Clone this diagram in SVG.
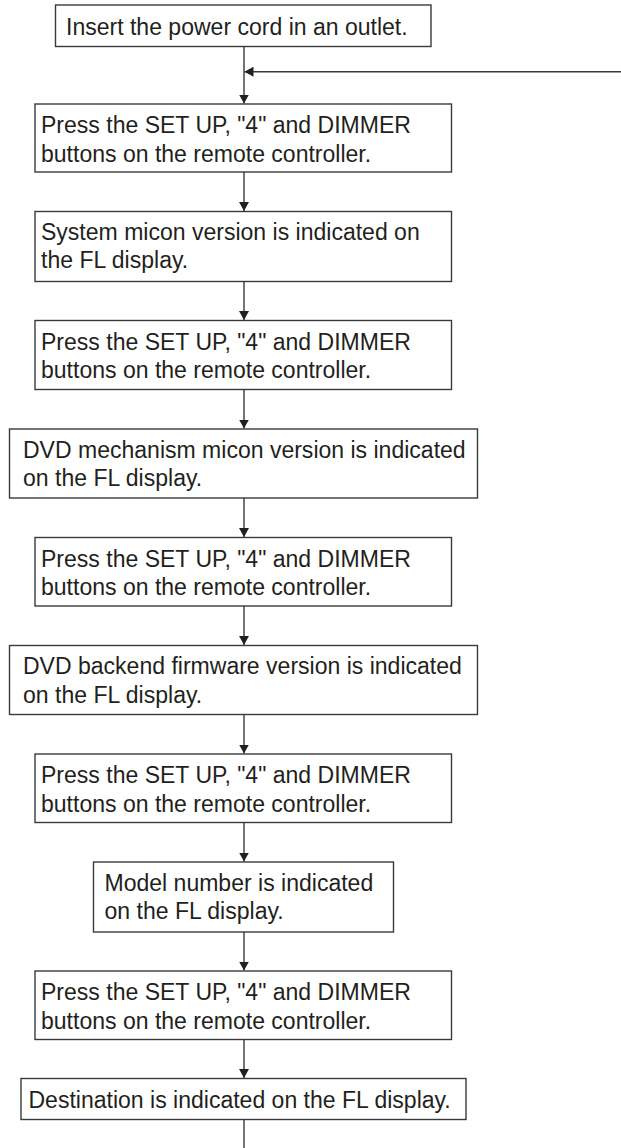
<svg xmlns="http://www.w3.org/2000/svg" width="621" height="1148" viewBox="0 0 621 1148">
<style>
rect.box{fill:#fff;stroke:#3a3a3a;stroke-width:1.4}
text{font-family:"Liberation Sans",Arial,sans-serif;font-size:24.5px;fill:#231f20}
.line{fill:none;stroke:#3a3a3a;stroke-width:1.4}
</style>
<defs>
<marker id="arr" markerUnits="userSpaceOnUse" markerWidth="10" markerHeight="11" refX="9" refY="5" orient="auto">
<path d="M0,0 L9,5 L0,10 z" fill="#231f20"/>
</marker>
</defs>
<rect width="621" height="1148" fill="#fff"/>
<g id="connectors">
<line class="line" x1="244" y1="46.5" x2="244" y2="103.5" marker-end="url(#arr)"/>
<line class="line" x1="621" y1="71.7" x2="244.5" y2="71.7" marker-end="url(#arr)"/>
<line class="line" x1="244" y1="172" x2="244" y2="211" marker-end="url(#arr)"/>
<line class="line" x1="244" y1="281.5" x2="244" y2="320" marker-end="url(#arr)"/>
<line class="line" x1="244" y1="389.5" x2="244" y2="428.5" marker-end="url(#arr)"/>
<line class="line" x1="244" y1="498" x2="244" y2="537" marker-end="url(#arr)"/>
<line class="line" x1="244" y1="606" x2="244" y2="645" marker-end="url(#arr)"/>
<line class="line" x1="244" y1="714.5" x2="244" y2="753.5" marker-end="url(#arr)"/>
<line class="line" x1="244" y1="822.5" x2="244" y2="861.5" marker-end="url(#arr)"/>
<line class="line" x1="244" y1="932" x2="244" y2="970.5" marker-end="url(#arr)"/>
<line class="line" x1="244" y1="1039.5" x2="244" y2="1078" marker-end="url(#arr)"/>
<line class="line" x1="244" y1="1119.5" x2="244" y2="1148"/>
</g>
<g id="n1"><rect class="box" x="55.5" y="5" width="375.5" height="41.5"/><text transform="matrix(0.94,0,0,1,66,0)"><tspan x="0" y="35">Insert the power cord in an outlet.</tspan></text></g>
<g id="n2"><rect class="box" x="35" y="104" width="416.5" height="68"/><text transform="matrix(0.94,0,0,1,41,0)"><tspan x="0" y="133.3">Press the SET UP, "4" and DIMMER</tspan><tspan x="0" y="161.7">buttons on the remote controller.</tspan></text></g>
<g id="n3"><rect class="box" x="35" y="211.5" width="416.5" height="70"/><text transform="matrix(0.94,0,0,1,41,0)"><tspan x="0" y="240">System micon version is indicated on</tspan><tspan x="0" y="268.5">the FL display.</tspan></text></g>
<g id="n4"><rect class="box" x="35" y="320.5" width="416.5" height="69"/><text transform="matrix(0.94,0,0,1,41,0)"><tspan x="0" y="350">Press the SET UP, "4" and DIMMER</tspan><tspan x="0" y="378.3">buttons on the remote controller.</tspan></text></g>
<g id="n5"><rect class="box" x="9.5" y="429" width="468" height="69"/><text transform="matrix(0.94,0,0,1,23,0)"><tspan x="0" y="458">DVD mechanism micon version is indicated</tspan><tspan x="0" y="486.5">on the FL display.</tspan></text></g>
<g id="n6"><rect class="box" x="35" y="537.5" width="416.5" height="68.5"/><text transform="matrix(0.94,0,0,1,41,0)"><tspan x="0" y="566.6">Press the SET UP, "4" and DIMMER</tspan><tspan x="0" y="595">buttons on the remote controller.</tspan></text></g>
<g id="n7"><rect class="box" x="9.5" y="645.5" width="468" height="69"/><text transform="matrix(0.94,0,0,1,23,0)"><tspan x="0" y="674.5">DVD backend firmware version is indicated</tspan><tspan x="0" y="703">on the FL display.</tspan></text></g>
<g id="n8"><rect class="box" x="35" y="754" width="416.5" height="68.5"/><text transform="matrix(0.94,0,0,1,41,0)"><tspan x="0" y="783.2">Press the SET UP, "4" and DIMMER</tspan><tspan x="0" y="811.6">buttons on the remote controller.</tspan></text></g>
<g id="n9"><rect class="box" x="93.5" y="862" width="300" height="70"/><text transform="matrix(0.94,0,0,1,104.5,0)"><tspan x="0" y="891">Model number is indicated</tspan><tspan x="0" y="919.5">on the FL display.</tspan></text></g>
<g id="n10"><rect class="box" x="35" y="971" width="416.5" height="68.5"/><text transform="matrix(0.94,0,0,1,41,0)"><tspan x="0" y="1000.2">Press the SET UP, "4" and DIMMER</tspan><tspan x="0" y="1028.6">buttons on the remote controller.</tspan></text></g>
<g id="n11"><rect class="box" x="21" y="1078.5" width="445" height="41"/><text transform="matrix(0.94,0,0,1,28.5,0)"><tspan x="0" y="1108">Destination is indicated on the FL display.</tspan></text></g>
</svg>
